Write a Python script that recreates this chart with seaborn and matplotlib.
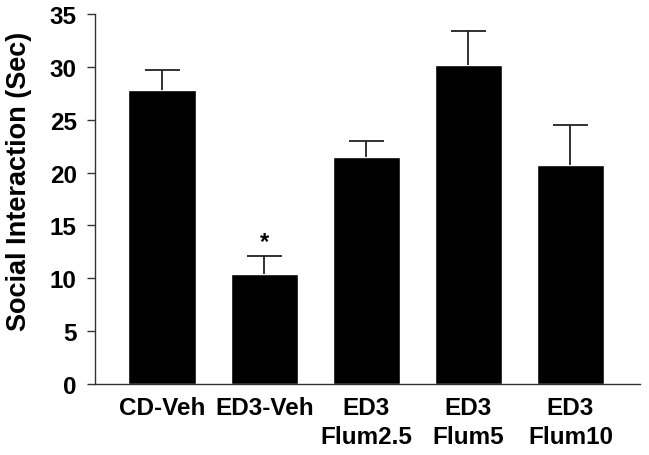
import matplotlib
matplotlib.use("Agg")
import matplotlib.pyplot as plt
import seaborn as sns
import pandas as pd

groups = ["CD-Veh", "ED3-Veh", "ED3\nFlum2.5", "ED3\nFlum5", "ED3\nFlum10"]
means = [27.8, 10.4, 21.5, 30.2, 20.7]
sems = [1.9, 1.7, 1.5, 3.2, 3.8]

df = pd.DataFrame({"group": groups, "mean": means, "sem": sems})

sns.set_style("ticks")
plt.rcParams["font.family"] = ["Liberation Sans", "DejaVu Sans"]
plt.rcParams["text.color"] = "black"
plt.rcParams["axes.labelcolor"] = "black"
plt.rcParams["xtick.color"] = "black"
plt.rcParams["ytick.color"] = "black"

fig = plt.figure(figsize=(6.49, 4.56), dpi=100)
ax = fig.add_axes([0.146, 0.156, 0.840, 0.811])

sns.barplot(data=df, x="group", y="mean", color="black", width=0.66,
            saturation=1, errorbar=None, ax=ax)
# upward-only error bars (SEM)
eb = ax.errorbar(range(len(groups)), df["mean"],
                 yerr=[[0] * len(groups), df["sem"]],
                 fmt="none", ecolor="#222222", elinewidth=1.3,
                 capsize=12.6, capthick=1.3)
eb[1][0].set_visible(False)

# significance marker
ax.text(1, df["mean"][1] + df["sem"][1] + 0.25, "*", ha="center", va="bottom",
        fontsize=17, fontweight="bold")

ax.set_ylim(0, 35)
ax.set_yticks(range(0, 36, 5))
ax.set_xlim(-0.66, 4.68)
ax.set_xlabel("")
ax.set_ylabel("Social Interaction (Sec)", fontsize=19.5, fontweight="bold")
ax.yaxis.set_label_coords(-0.115, 0.55)
ax.tick_params(axis="x", length=0, labelsize=17.5, pad=9)
ax.tick_params(axis="y", labelsize=17.5, length=6, width=1, direction="out", pad=7,
               color="#333333")
for lab in ax.get_xticklabels() + ax.get_yticklabels():
    lab.set_fontweight("bold")
for lab in ax.get_xticklabels():
    lab.set_linespacing(1.3)
sns.despine(ax=ax)
for s in ["left", "bottom"]:
    ax.spines[s].set_color("#333333")
    ax.spines[s].set_linewidth(1)

fig.savefig("out.png", dpi=100)
